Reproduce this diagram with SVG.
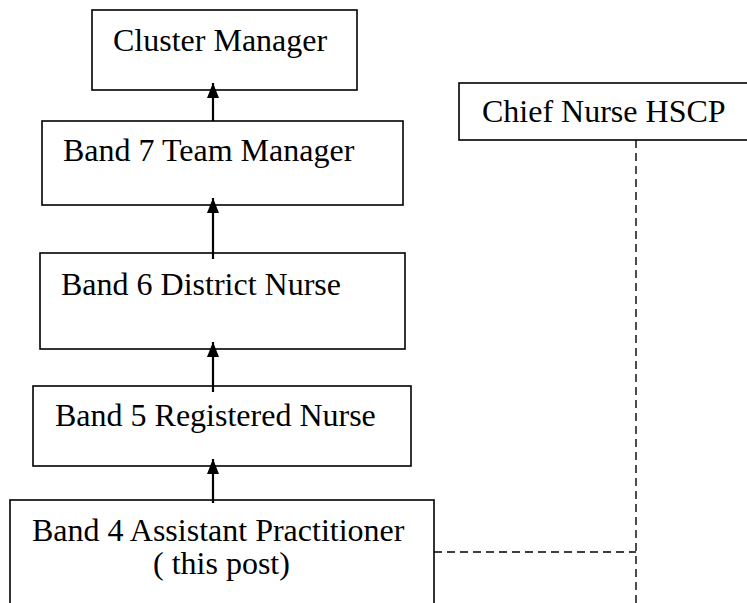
<svg xmlns="http://www.w3.org/2000/svg" width="747" height="603" viewBox="0 0 747 603">
<defs>
<style>
.box{fill:#fff;stroke:#000;stroke-width:1.6}
.lbl{font-family:"Liberation Serif","Times New Roman",serif;font-size:32px;fill:#000}
.arr{stroke:#000;stroke-width:2.2;fill:none}
.dash{stroke:#000;stroke-width:1.4;fill:none;stroke-dasharray:8,5}
</style>
<marker id="ah" viewBox="0 0 15 12" refX="15" refY="6" markerUnits="userSpaceOnUse" markerWidth="15" markerHeight="12" orient="auto">
<path d="M0,0 L15,6 L0,12 Z" fill="#000"/>
</marker>
</defs>
<rect width="747" height="603" fill="#fff"/>
<g id="cluster-manager">
<rect class="box" x="92" y="10" width="265" height="80"/>
<text class="lbl" x="113" y="51">Cluster Manager</text>
</g>
<g id="chief-nurse">
<rect class="box" x="459" y="83" width="300" height="57"/>
<text class="lbl" x="482" y="122">Chief Nurse HSCP</text>
</g>
<g id="band7">
<rect class="box" x="42" y="121" width="361" height="84"/>
<text class="lbl" x="63" y="161">Band 7 Team Manager</text>
</g>
<g id="band6">
<rect class="box" x="40" y="253" width="365" height="96"/>
<text class="lbl" x="61" y="295">Band 6 District Nurse</text>
</g>
<g id="band5">
<rect class="box" x="33" y="386" width="378" height="80"/>
<text class="lbl" x="55" y="426">Band 5 Registered Nurse</text>
</g>
<g id="band4">
<rect class="box" x="10" y="500" width="424" height="120"/>
<text class="lbl" x="32" y="541">Band 4 Assistant Practitioner</text>
<text class="lbl" x="153" y="574">( this post)</text>
</g>
<g id="connectors">
<line class="arr" x1="213" y1="121" x2="213" y2="83" marker-end="url(#ah)"/>
<line class="arr" x1="213" y1="259" x2="213" y2="198" marker-end="url(#ah)"/>
<line class="arr" x1="213" y1="392" x2="213" y2="342" marker-end="url(#ah)"/>
<line class="arr" x1="213" y1="503" x2="213" y2="459" marker-end="url(#ah)"/>
<line class="dash" x1="636" y1="140" x2="636" y2="603"/>
<line class="dash" x1="434" y1="552" x2="636" y2="552"/>
</g>
</svg>
